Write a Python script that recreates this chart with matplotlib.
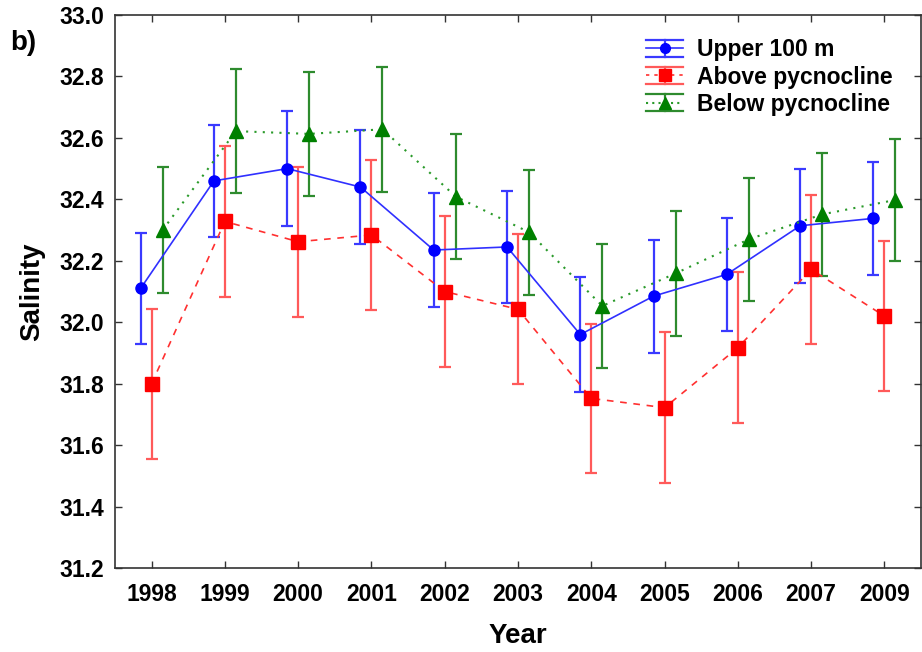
import numpy as np
import matplotlib
matplotlib.use("Agg")
import matplotlib.pyplot as plt
from matplotlib.lines import Line2D
from matplotlib.legend_handler import HandlerBase

plt.rcParams['font.family'] = ['Liberation Sans', 'DejaVu Sans']
plt.rcParams['font.weight'] = 'bold'

years = ['1998', '1999', '2000', '2001', '2002', '2003', '2004', '2005', '2006', '2007', '2009']

# Upper 100 m
upper = [32.11, 32.46, 32.50, 32.44, 32.235, 32.245, 31.96, 32.085, 32.156, 32.314, 32.338]
upper_err = [0.18, 0.183, 0.186, 0.186, 0.186, 0.183, 0.186, 0.184, 0.184, 0.186, 0.183]
# Above pycnocline
above = [31.80, 32.328, 32.262, 32.284, 32.10, 32.042, 31.752, 31.722, 31.917, 32.172, 32.02]
above_err = [0.244, 0.245, 0.244, 0.245, 0.245, 0.244, 0.243, 0.246, 0.245, 0.242, 0.245]
# Below pycnocline
below = [32.30, 32.622, 32.613, 32.628, 32.409, 32.293, 32.053, 32.159, 32.27, 32.351, 32.398]
below_err = [0.204, 0.202, 0.203, 0.203, 0.204, 0.203, 0.202, 0.203, 0.2, 0.2, 0.2]

labels = ['Upper 100 m', 'Above pycnocline', 'Below pycnocline']


# legend key like the original: wide caps over the whole key, line + marker in the middle
class HandlerWideCaps(HandlerBase):
    def __init__(self, color, ls, lw, marker, mcolor, ecolor, ms):
        super().__init__()
        self.color = color
        self.ls = ls
        self.lw = lw
        self.marker = marker
        self.mcolor = mcolor
        self.ecolor = ecolor
        self.ms = ms

    def create_artists(self, legend, orig_handle, xdescent, ydescent,
                       width, height, fontsize, trans):
        cy = height / 2 - ydescent
        x0, x1 = -xdescent, width - xdescent
        h = height * 0.52
        top = Line2D([x0, x1], [cy + h, cy + h], color=self.ecolor, lw=1.6)
        bot = Line2D([x0, x1], [cy - h, cy - h], color=self.ecolor, lw=1.6)
        vert = Line2D([(x0 + x1) / 2] * 2, [cy - h, cy + h], color=self.ecolor, lw=1.6)
        main = Line2D([x0, x1], [cy, cy], color=self.color, ls=self.ls, lw=self.lw)
        mk = Line2D([(x0 + x1) / 2], [cy], ls='none', marker=self.marker,
                    ms=self.ms, mfc=self.mcolor, mec=self.mcolor)
        arts = [top, bot, vert, main, mk]
        for a in arts:
            a.set_transform(trans)
        return arts


x = np.arange(len(years))

fig = plt.figure(figsize=(9.22, 6.52), dpi=100)
ax = fig.add_axes([0.1247, 0.1288, 0.8743, 0.8482])

e1 = ax.errorbar(x - 0.15, upper, yerr=upper_err, color='#3030ff', lw=1.2,
                 marker='o', ms=8, mfc='#0000ff', mec='#0000ff',
                 ecolor='#3a3aff', elinewidth=1.6, capsize=4, capthick=1.6)
e2 = ax.errorbar(x, above, yerr=above_err, color='#ff3030', lw=1.2, ls=(0, (4, 4)),
                 marker='s', ms=10, mfc='#ff0000', mec='#ff0000',
                 ecolor='#ff5a5a', elinewidth=1.6, capsize=4, capthick=1.6)
e3 = ax.errorbar(x + 0.15, below, yerr=below_err, color='#2a9a2a', lw=1.5, ls=(0, (1, 3)),
                 marker='^', ms=10, mfc='#008000', mec='#008000',
                 ecolor='#2e8b2e', elinewidth=1.6, capsize=4, capthick=1.6)

ax.set_xlim(-0.5, len(years) - 0.5)
ax.set_ylim(31.2, 33.0)
ax.set_xticks(x)
ax.set_xticklabels(years)
yt = np.arange(31.2, 33.01, 0.2)
ax.set_yticks(yt)
ax.set_yticklabels(['%.1f' % v for v in yt])
ax.tick_params(direction='in', top=True, right=True, length=5, width=1,
               labelsize=16.5, colors='#333333', labelcolor='black')
ax.tick_params(axis='x', pad=11)
ax.tick_params(axis='y', pad=8)
for sp in ax.spines.values():
    sp.set_color('#333333')
    sp.set_linewidth(1.2)

ax.set_xlabel('Year', fontsize=20, fontweight='bold', labelpad=12)
ax.set_ylabel('Salinity', fontsize=20, fontweight='bold', labelpad=10)

handles = [e1.lines[0], e2.lines[0], e3.lines[0]]
hmap = {
    e1.lines[0]: HandlerWideCaps('#3030ff', '-', 1.2, 'o', '#0000ff', '#3a3aff', 7),
    e2.lines[0]: HandlerWideCaps('#ff3030', (0, (2, 3)), 1.2, 's', '#ff0000', '#ff5a5a', 8),
    e3.lines[0]: HandlerWideCaps('#2a9a2a', (0, (1, 2)), 1.5, '^', '#008000', '#2e8b2e', 8),
}
ax.legend(handles, labels, handler_map=hmap, loc='upper right',
          bbox_to_anchor=(0.99, 0.995), frameon=False, fontsize=16.5,
          handlelength=1.6, handleheight=0.7, handletextpad=0.6, labelspacing=0.18)

fig.text(0.011, 0.923, 'b)', fontsize=20, fontweight='bold')

fig.savefig('out.png', dpi=100)
